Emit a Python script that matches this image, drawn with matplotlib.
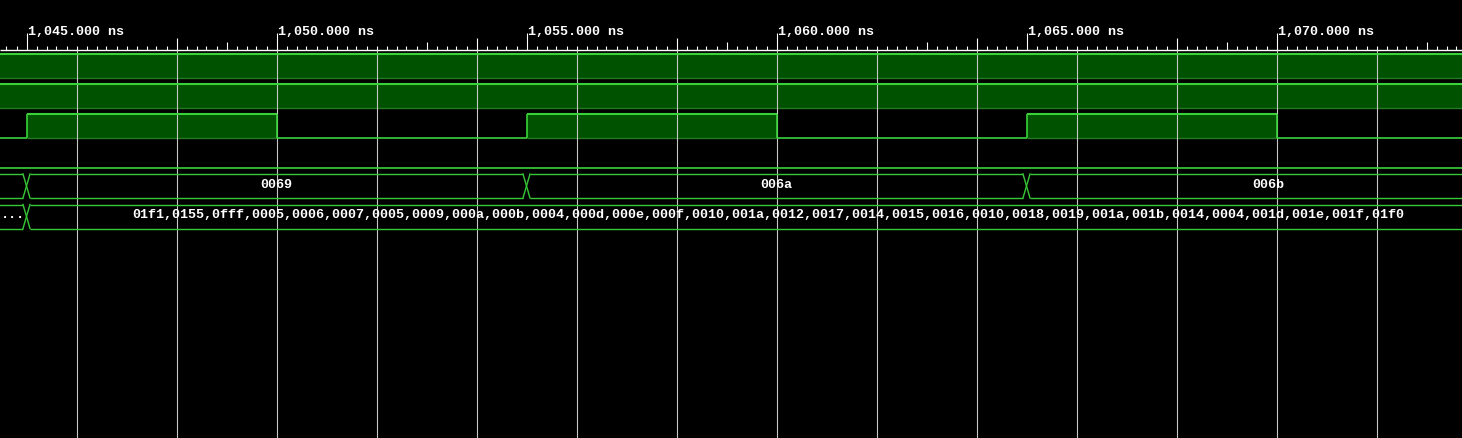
import numpy as np
import matplotlib.pyplot as plt

# visible time window (ns) and right edge used for centering bus labels
T_START, T_END = 1044.47, 1073.71
LABEL_END = 1074.66

ruler_labels = [1045, 1050, 1055, 1060, 1065, 1070]
grid_times = np.arange(1046, 1074, 2)

# 1-bit signals: (edges, levels)
sig_a_edges, sig_a_levels = [1040, 1080], [1]
sig_b_edges, sig_b_levels = [1040, 1080], [1]
clk_edges = [1040, 1045, 1050, 1055, 1060, 1065, 1070, 1075]
clk_levels = [0, 1, 0, 1, 0, 1, 0]
sig_d_edges, sig_d_levels = [1040, 1080], [0]

# buses
bus_a_edges = [1035, 1045, 1055, 1065, 1075]
bus_a_text = ["", "0069", "006a", "006b"]
bus_b_values = ["01f1", "0155", "0fff", "0005", "0006", "0007", "0005", "0009",
                "000a", "000b", "0004", "000d", "000e", "000f", "0010", "001a",
                "0012", "0017", "0014", "0015", "0016", "0010", "0018", "0019",
                "001a", "001b", "0014", "0004", "001d", "001e", "001f", "01f0"]
bus_b_edges = [1035, 1045, 1080]
bus_b_text = ["...", ",".join(bus_b_values)]

FILL = "#005200"
BRIGHT = "#3ad23a"
DIM = "#237a23"
BUS = "#36c836"
GRID = "#c8c8c8"
PX = 0.02  # ns per pixel
FONT = dict(family=["Liberation Mono", "DejaVu Sans Mono"], weight="bold",
            color="white", fontsize=9.65)

fig = plt.figure(figsize=(14.62, 4.38), dpi=100)
fig.patch.set_facecolor("black")
ax = fig.add_axes([0, 0, 1, 1])
ax.set_facecolor("black")
ax.set_xlim(T_START, T_END)
ax.set_ylim(438, 0)
ax.axis("off")

# ruler
ax.hlines(50, T_START, T_END, color="white", lw=1.0)
for t in np.arange(1044.6, T_END, 0.2):
    r = round(t, 1)
    if r % 5 == 0:
        top = 33
    elif (r - 1045) % 10 in (3, 9):
        top = 38
    elif (r - 1045) % 10 in (4, 8):
        top = 42
    else:
        top = 46
    ax.vlines(r, top, 50, color="white", lw=0.8)
for t in ruler_labels:
    ax.text(t + 0.02, 32, f"{t:,}.000 ns", ha="left", va="center", **FONT)


def draw_bit(top, edges, levels):
    bot = top + 24
    for i, lv in enumerate(levels):
        t0, t1 = edges[i], edges[i + 1]
        if lv:
            ax.fill_between([t0, t1], top, bot, color=FILL, lw=0, zorder=1)
            ax.hlines(bot, t0, t1, color=DIM, lw=1.0, zorder=2)
            ax.hlines(top, t0, t1, color=BRIGHT, lw=1.5, zorder=3)
        else:
            ax.hlines(bot, t0, t1, color=BRIGHT, lw=1.2, zorder=3)
        if i > 0:
            ax.vlines(t0, top, bot, color=BRIGHT, lw=1.2, zorder=3)


def draw_bus(top, edges, texts):
    bot = top + 24
    h = 3.5 * PX
    for i, txt in enumerate(texts):
        t0, t1 = edges[i], edges[i + 1]
        ax.hlines([top, bot], t0 + h, t1 - h, color=BUS, lw=1.0, zorder=3)
        if txt:
            c = (max(t0, T_START) + min(t1, LABEL_END)) / 2
            ax.text(c, (top + bot) / 2 - 1, txt, ha="center", va="center", zorder=4, **FONT)
    for t in edges[1:-1]:
        ax.plot([t - h, t + h], [top, bot], color=BUS, lw=1.0, zorder=3)
        ax.plot([t - h, t + h], [bot, top], color=BUS, lw=1.0, zorder=3)


draw_bit(54, sig_a_edges, sig_a_levels)
draw_bit(84, sig_b_edges, sig_b_levels)
draw_bit(114, clk_edges, clk_levels)
draw_bit(144, sig_d_edges, sig_d_levels)
draw_bus(174, bus_a_edges, bus_a_text)
draw_bus(204.5, bus_b_edges, bus_b_text)

ax.vlines(grid_times, 50, 438, color=GRID, lw=0.8, zorder=2.5)

fig.savefig("out.png", dpi=100, facecolor="black")
